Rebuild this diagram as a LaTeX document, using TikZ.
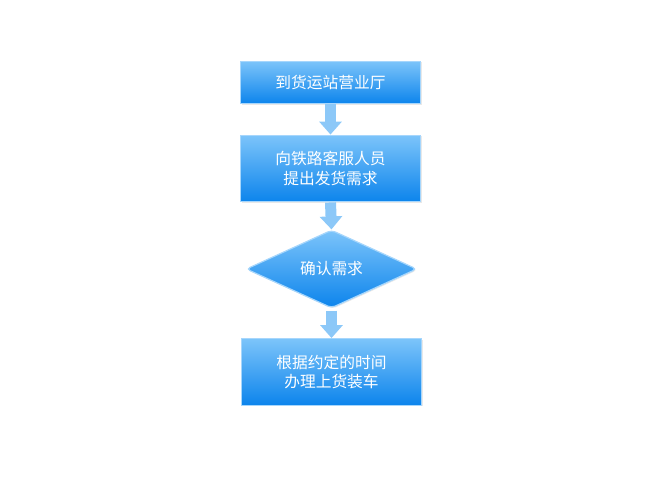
\documentclass[tikz,border=0pt]{standalone}
\usepackage{fontspec}
\newfontfamily\cjk{Noto Sans CJK SC}
\usetikzlibrary{shapes.geometric,arrows.meta,shadows}
\definecolor{boxtop}{HTML}{7CC4FA}
\definecolor{boxmid}{HTML}{3FA2F2}
\definecolor{boxbot}{HTML}{0C84EC}
\definecolor{boxline}{HTML}{A6D6FC}
\definecolor{flowarrow}{HTML}{8CC8F8}
\begin{document}
\begin{tikzpicture}[x=0.75pt, y=-0.75pt,
    stepbox/.style={rectangle, draw=boxline, line width=0.9pt, top color=boxtop, middle color=boxmid, bottom color=boxbot,
        drop shadow={opacity=0.18, shadow xshift=0.8pt, shadow yshift=-0.8pt},
        minimum width=135pt, inner sep=0pt, text=white, align=center, font=\cjk\fontsize{11.8}{14.3}\selectfont},
    checkbox/.style={stepbox, diamond, rounded corners=3pt, minimum width=128pt, minimum height=58.5pt},
    flow/.style={flowarrow, line width=8.25pt, -{Triangle[length=9.75pt, width=16.5pt]}}]
    \useasboundingbox (0,0) rectangle (668,486);
    \node[stepbox, minimum height=32pt] (hall) at (330.5,82.5) {到货运站营业厅};
    \node[stepbox, minimum height=50pt] (request) at (330.5,168.5) {向铁路客服人员\\提出发货需求};
    \node[checkbox] (confirm) at (331.5,269) {确认需求};
    \node[stepbox, minimum height=50pt] (loading) at (331.5,372) {根据约定的时间\\办理上货装车};
    \draw[flow] (hall.south) -- (request.north);
    \draw[flow] (request.south) -- (confirm.north);
    \draw[flow] ([yshift=-1.5pt]confirm.south) -- (loading.north);
\end{tikzpicture}
\end{document}
